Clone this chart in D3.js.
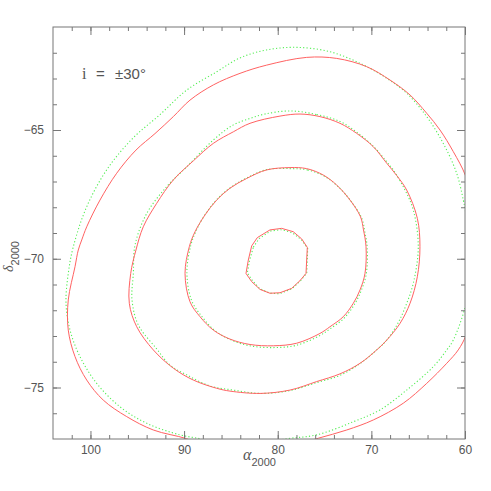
<!DOCTYPE html>
<html>
<head>
<meta charset="utf-8">
<script src="https://cdn.jsdelivr.net/npm/d3@7"></script>
<style>
    body { margin: 0; background: #fff; }
    .tick text { font-family: 'Liberation Sans', Arial, sans-serif; font-size: 12px; fill: #555; }
    .tick line { stroke: #777; }
</style>
</head>
<body>
<div id="chart"></div>
<script>
// contour levels, [RA, Dec] in degrees, red = model, green = fit
var level1Red = [[82.78,-69.50],[82.18,-69.18],[80.83,-68.88],[79.58,-68.82],[78.34,-68.95],[77.44,-69.23],[76.84,-69.56],[76.98,-70.57],[77.62,-70.85],[78.51,-71.15],[79.76,-71.32],[80.83,-71.34],[81.89,-71.19],[82.78,-70.89],[83.39,-70.57],[83.14,-70.05]];
var level1Green = [[82.60,-69.55],[82.00,-69.22],[80.75,-68.92],[79.55,-68.87],[78.40,-69.00],[77.45,-69.27],[76.80,-69.60],[76.90,-70.55],[77.55,-70.85],[78.50,-71.17],[79.80,-71.36],[80.90,-71.33],[81.95,-71.15],[82.70,-70.85],[83.25,-70.55],[83.00,-70.05]];

var level2Red = [[78.69,-66.46],[76.91,-66.50],[75.13,-66.75],[73.70,-67.14],[72.28,-67.72],[71.16,-68.37],[70.84,-68.88],[70.57,-69.53],[70.68,-70.57],[71.21,-71.21],[71.93,-71.73],[73.00,-72.25],[74.42,-72.64],[75.49,-72.90],[77.97,-73.28],[80.47,-73.38],[82.96,-73.33],[85.10,-73.12],[86.88,-72.77],[88.30,-72.25],[89.37,-71.67],[89.90,-70.57],[89.44,-69.53],[88.83,-68.95],[87.77,-68.30],[86.52,-67.72],[85.10,-67.26],[83.31,-66.88],[81.18,-66.55]];
var level2Green = [[78.60,-66.50],[76.80,-66.55],[75.00,-66.80],[73.55,-67.20],[72.10,-67.80],[71.00,-68.45],[70.70,-68.95],[70.45,-69.55],[70.55,-70.60],[71.10,-71.25],[71.85,-71.80],[72.95,-72.32],[74.40,-72.72],[75.50,-72.98],[78.00,-73.36],[80.50,-73.45],[83.00,-73.38],[85.00,-73.15],[86.75,-72.78],[88.15,-72.22],[89.20,-71.62],[89.70,-70.55],[89.30,-69.50],[88.70,-68.90],[87.70,-68.25],[86.50,-67.70],[85.10,-67.25],[83.30,-66.86],[81.20,-66.54]];

var level3Red = [[77.62,-64.38],[75.49,-64.48],[73.35,-64.74],[71.57,-65.13],[69.79,-65.65],[68.36,-66.29],[67.29,-66.77],[66.23,-67.33],[65.09,-68.43],[64.81,-69.53],[65.09,-70.70],[65.87,-71.73],[66.94,-72.51],[68.36,-73.16],[69.43,-73.54],[71.21,-74.06],[73.35,-74.47],[75.84,-74.77],[78.69,-75.10],[81.89,-75.23],[85.10,-75.14],[86.52,-75.03],[89.02,-74.71],[91.15,-74.25],[93.29,-73.54],[95.06,-72.64],[95.85,-71.73],[95.70,-70.57],[95.14,-69.66],[94.36,-68.76],[92.93,-67.85],[91.15,-66.94],[89.02,-66.20],[86.88,-65.52],[84.74,-65.07],[82.96,-64.74],[79.76,-64.46]];
var level3Green = [[78.69,-64.26],[75.84,-64.40],[73.35,-64.67],[71.43,-65.12],[69.61,-65.70],[68.44,-66.20],[67.66,-66.55],[66.41,-67.33],[65.52,-68.11],[64.99,-69.53],[65.52,-70.95],[66.30,-71.80],[67.16,-72.50],[68.36,-73.16],[69.43,-73.54],[71.21,-74.07],[73.35,-74.53],[75.84,-74.81],[78.69,-75.12],[81.89,-75.23],[84.74,-75.10],[87.23,-74.94],[89.72,-74.51],[91.50,-74.13],[92.93,-73.50],[94.89,-72.57],[95.56,-71.60],[95.42,-70.57],[95.24,-69.47],[93.99,-68.24],[91.86,-67.20],[89.72,-66.43],[86.88,-65.39],[84.78,-64.81],[82.96,-64.55],[81.36,-64.38]];

var level4Red = [[101.30,-69.66],[100.93,-69.27],[100.40,-68.76],[98.98,-67.72],[97.20,-66.68],[95.14,-65.78],[93.11,-65.14],[91.15,-64.48],[89.37,-63.84],[86.88,-63.25],[84.03,-62.80],[81.18,-62.48],[76.91,-62.18],[73.70,-62.22],[70.50,-62.54],[68.01,-63.06],[65.87,-63.64],[64.09,-64.35],[62.67,-65.00],[61.25,-65.84],[59.97,-66.75],[59.25,-67.72],[58.83,-69.66],[59.04,-71.60],[59.89,-72.96],[60.72,-73.54],[61.95,-74.06],[64.09,-74.84],[66.59,-75.61],[69.79,-76.26],[72.63,-76.65],[75.67,-76.97],[78.69,-77.27],[82.96,-77.50],[87.23,-77.35],[89.72,-76.99],[93.29,-76.65],[96.13,-76.13],[98.63,-75.49],[100.40,-74.71],[101.65,-73.80],[102.37,-72.77],[102.37,-71.60],[101.65,-70.31]];
var level4Green = [[101.83,-69.53],[100.40,-67.98],[98.27,-66.55],[95.56,-65.35],[92.57,-64.40],[89.72,-63.45],[86.52,-62.74],[84.03,-62.20],[81.18,-61.89],[77.97,-61.79],[74.42,-61.96],[71.21,-62.41],[68.36,-62.99],[66.23,-63.57],[64.09,-64.48],[62.32,-65.52],[60.89,-66.68],[60.18,-67.72],[59.97,-68.11],[59.47,-69.27],[59.47,-70.83],[59.97,-71.86],[61.25,-73.16],[61.95,-73.54],[63.38,-74.19],[66.23,-75.10],[69.08,-75.87],[71.93,-76.33],[75.84,-76.84],[79.04,-76.99],[82.96,-77.23],[86.70,-77.16],[88.30,-76.99],[90.44,-76.84],[93.99,-76.39],[96.84,-75.75],[99.33,-74.84],[101.12,-73.80],[102.18,-72.77],[102.61,-71.73],[102.37,-70.57]];

var raTicks = [100, 90, 80, 70, 60];
var decTicks = [-75, -70, -65];
var label = 'i = ±30°';

var margin = { top: 27, left: 53, bottom: 52, right: 26 },
    width = 491 - margin.left - margin.right,
    height = 491 - margin.top - margin.bottom;

var svg = d3.select('#chart').append('svg')
    .attr('width', width + margin.left + margin.right)
    .attr('height', height + margin.top + margin.bottom)
    .append('g')
    .attr('transform', 'translate(' + margin.left + ', ' + margin.top + ')');

var x = d3.scaleLinear().domain([104, 60]).range([0, width]);
var y = d3.scaleLinear().domain([-77, -61]).range([height, 0]);

svg.append('clipPath')
    .attr('id', 'box')
    .append('rect')
    .attr('width', width)
    .attr('height', height);

var line = d3.line()
    .x(d => x(d[0]))
    .y(d => y(d[1]))
    .curve(d3.curveCatmullRomClosed.alpha(0.5));

var lineInner = d3.line()
    .x(d => x(d[0]))
    .y(d => y(d[1]))
    .curve(d3.curveLinearClosed);

var contours = [
    { pts: level4Green, red: false }, { pts: level4Red, red: true },
    { pts: level3Green, red: false }, { pts: level3Red, red: true },
    { pts: level2Green, red: false }, { pts: level2Red, red: true },
    { pts: level1Green, red: false, inner: true }, { pts: level1Red, red: true, inner: true }
];

svg.append('g')
    .attr('clip-path', 'url(#box)')
    .selectAll('path')
    .data(contours)
    .enter()
    .append('path')
    .attr('d', d => d.inner ? lineInner(d.pts) : line(d.pts))
    .attr('fill', 'none')
    .attr('stroke', d => d.red ? '#ff6262' : '#55ee55')
    .attr('stroke-width', d => d.red ? 1 : 1.1)
    .attr('stroke-dasharray', d => d.red ? null : '1.2,2.2');

// ticks on all four sides, pointing inward
function addAxis(axis, tx, ty) {
    var g = svg.append('g')
        .attr('transform', 'translate(' + tx + ',' + ty + ')')
        .call(axis);
    g.select('.domain').remove();
    return g;
}

var xMinor = d3.range(62, 104, 2);
var yMinor = d3.range(-76, -61, 1);

addAxis(d3.axisBottom(x).tickValues(xMinor).tickSize(-4).tickFormat(''), 0, height);
addAxis(d3.axisTop(x).tickValues(xMinor).tickSize(-4).tickFormat(''), 0, 0);
addAxis(d3.axisLeft(y).tickValues(yMinor).tickSize(-4).tickFormat(''), 0, 0);
addAxis(d3.axisRight(y).tickValues(yMinor).tickSize(-4).tickFormat(''), width, 0);

addAxis(d3.axisBottom(x).tickValues(raTicks).tickSize(-8).tickPadding(6).tickFormat(d3.format('d')), 0, height);
addAxis(d3.axisTop(x).tickValues(raTicks).tickSize(-8).tickFormat(''), 0, 0);
addAxis(d3.axisLeft(y).tickValues(decTicks).tickSize(-8).tickPadding(9).tickFormat(d3.format('d')), 0, 0);
addAxis(d3.axisRight(y).tickValues(decTicks).tickSize(-8).tickFormat(''), width, 0);

svg.append('rect')
    .attr('width', width)
    .attr('height', height)
    .attr('fill', 'none')
    .attr('stroke', '#777')
    .attr('stroke-width', 1);

// label inside the box
var parts = label.split(' ');
var lab = svg.append('g').attr('fill', '#555');
lab.append('text')
    .attr('x', 29).attr('y', 52)
    .style('font-family', "'Liberation Serif', serif")
    .style('font-size', '16px')
    .text(parts[0]);
lab.append('text')
    .attr('x', 43).attr('y', 52)
    .style('font-family', "'Liberation Sans', sans-serif")
    .style('font-size', '15px')
    .text(parts[1]);
lab.append('text')
    .attr('x', 62).attr('y', 52)
    .style('font-family', "'Liberation Sans', sans-serif")
    .style('font-size', '15px')
    .text(parts[2]);

// axis titles
var xt = svg.append('text')
    .attr('x', 190)
    .attr('y', height + 21)
    .attr('fill', '#555');
xt.append('tspan')
    .style('font-family', "'Liberation Serif', serif")
    .style('font-style', 'italic')
    .style('font-size', '16px')
    .text('α');
xt.append('tspan')
    .attr('dy', 6)
    .style('font-family', "'Liberation Sans', sans-serif")
    .style('font-size', '11px')
    .text('2000');

var yt = svg.append('text')
    .attr('transform', 'translate(' + (-40) + ',' + 245 + ') rotate(-90)')
    .attr('fill', '#555');
yt.append('tspan')
    .style('font-family', "'Liberation Serif', serif")
    .style('font-style', 'italic')
    .style('font-size', '14px')
    .text('δ');
yt.append('tspan')
    .attr('dy', 6)
    .style('font-family', "'Liberation Sans', sans-serif")
    .style('font-size', '11px')
    .text('2000');
</script>
</body>
</html>
